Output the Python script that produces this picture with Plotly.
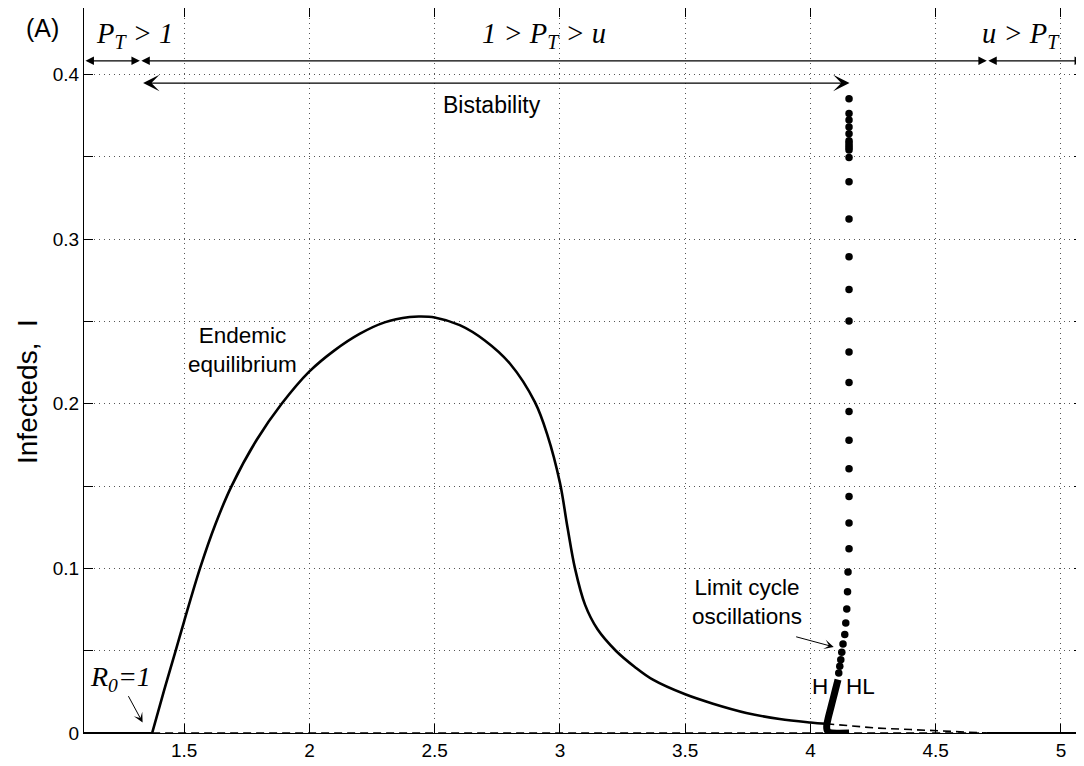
import plotly.graph_objects as go

# ---------------- data ----------------
endemic_x = [1.372, 1.420, 1.466, 1.500, 1.563, 1.625, 1.689, 1.789, 1.889, 2.000, 2.100,
             2.200, 2.300, 2.400, 2.440, 2.500, 2.600, 2.700, 2.800, 2.900, 2.950,
             3.000, 3.030, 3.060, 3.100, 3.150, 3.223, 3.300, 3.371, 3.500, 3.611,
             3.744, 3.877, 4.000, 4.063]
endemic_y = [0.000, 0.026, 0.050, 0.068, 0.100, 0.127, 0.150, 0.178, 0.200, 0.2197, 0.2325,
             0.2425, 0.2495, 0.2528, 0.2531, 0.2525, 0.2478, 0.2385, 0.2245, 0.201, 0.181,
             0.152, 0.125, 0.100, 0.078, 0.063, 0.050, 0.040, 0.0324, 0.0235,
             0.0178, 0.0122, 0.0085, 0.0064, 0.0056]

unstable_x = [4.063, 4.170, 4.264, 4.400, 4.500, 4.600, 4.704]
unstable_y = [0.0056, 0.0044, 0.0030, 0.0021, 0.0015, 0.0006, 0.0]

dfe_stable_x = [1.10, 1.372]
dfe_unstable_x = [1.372, 4.704]
dfe_stable2_x = [4.704, 5.088]

lc_dense_x = [4.110, 4.100, 4.090, 4.080, 4.070, 4.065, 4.066, 4.072, 4.085, 4.154]
lc_dense_y = [0.0324, 0.0265, 0.0205, 0.0145, 0.0085, 0.0045, 0.0020, 0.0006, 0.0, 0.0]

lc_dots_x = [4.154] * 24 + [4.150, 4.148, 4.145, 4.141, 4.137, 4.130, 4.125, 4.121, 4.117, 4.113]
lc_dots_y = [0.3854, 0.3764, 0.3724, 0.3682, 0.3641, 0.3598, 0.3584, 0.3570, 0.3556, 0.3542,
             0.3497, 0.3349, 0.3123, 0.2894, 0.2695, 0.2503, 0.2315, 0.2130, 0.1954, 0.1778,
             0.1606, 0.1437, 0.1276, 0.1120,
             0.0978, 0.0858, 0.0753, 0.0668, 0.0599, 0.0541, 0.0490, 0.0445, 0.0405, 0.0365]

x_ticks = [1.5, 2, 2.5, 3, 3.5, 4, 4.5, 5]
x_ticktext = ["1.5", "2", "2.5", "3", "3.5", "4", "4.5", "5"]
y_ticks = [0, 0.05, 0.1, 0.15, 0.2, 0.25, 0.3, 0.35, 0.4]
y_ticktext = ["0", "", "0.1", "", "0.2", "", "0.3", "", "0.4"]

# regime boundaries on the parameter axis
regime_edges = [1.10, 1.323, 4.704, 5.088]
bistab_range = [1.330, 4.156]

# ---------------- figure ----------------
SANS = "Liberation Sans, Arial, sans-serif"
SERIF = "Liberation Serif, Times New Roman, serif"

# page body has an 8px margin: size/margins compensate so the plot box lands where the reference has it
W, H = 1076, 758
ML, MR, MT, MB = 76, 1, 0, 33
PW, PH = W - ML - MR, H - MT - MB


def px2paper(sx, sy):
    fx, fy = sx - 8, sy - 8
    return (fx - ML) / PW, (H - MB - fy) / PH


fig = go.Figure()

fig.add_trace(go.Scatter(x=dfe_stable_x, y=[0, 0], mode="lines",
                         line=dict(color="black", width=2), cliponaxis=False, showlegend=False))
fig.add_trace(go.Scatter(x=dfe_unstable_x, y=[0, 0], mode="lines",
                         line=dict(color="black", width=1.6, dash="8px,5px"), cliponaxis=False, showlegend=False))
fig.add_trace(go.Scatter(x=dfe_stable2_x, y=[0, 0], mode="lines",
                         line=dict(color="black", width=2), cliponaxis=False, showlegend=False))

fig.add_trace(go.Scatter(x=endemic_x, y=endemic_y, mode="lines",
                         line=dict(color="black", width=2.6, shape="spline", smoothing=1.0),
                         showlegend=False))
fig.add_trace(go.Scatter(x=unstable_x, y=unstable_y, mode="lines",
                         line=dict(color="black", width=1.6, dash="8px,5px"), showlegend=False))
fig.add_trace(go.Scatter(x=lc_dense_x, y=lc_dense_y, mode="lines",
                         line=dict(color="black", width=7, shape="spline", smoothing=0.6),
                         cliponaxis=False, showlegend=False))
fig.add_trace(go.Scatter(x=lc_dots_x, y=lc_dots_y, mode="markers",
                         marker=dict(color="black", size=7.5), cliponaxis=False, showlegend=False))

annotations = []

# top regime arrows (double-headed, filled)
y_reg = 0.4084
for a, b in zip(regime_edges[:-1], regime_edges[1:]):
    annotations.append(dict(x=b, y=y_reg, ax=a, ay=y_reg, xref="x", yref="y", axref="x", ayref="y",
                            text="", showarrow=True, arrowhead=2, startarrowhead=2, arrowside="end+start",
                            arrowsize=1.3, startarrowsize=1.3, arrowwidth=1.3, arrowcolor="black"))
# bistability arrow
annotations.append(dict(x=bistab_range[1], y=0.3949, ax=bistab_range[0], ay=0.3949,
                        xref="x", yref="y", axref="x", ayref="y", text="", showarrow=True,
                        arrowhead=3, startarrowhead=3, arrowside="end+start",
                        arrowsize=2.1, startarrowsize=2.1, arrowwidth=1.3, arrowcolor="black"))
annotations.append(dict(x=2.73, y=0.3818, xref="x", yref="y", text="Bistability", showarrow=False,
                        font=dict(family=SANS, size=23, color="black"), xanchor="center", yanchor="middle"))

# regime labels
annotations.append(dict(x=1.300, y=0.4235, xref="x", yref="y",
                        text="<i>P</i><sub><i>T</i></sub><i> &gt; 1</i>", showarrow=False,
                        font=dict(family=SERIF, size=28.5, color="black"), xanchor="center", yanchor="middle"))
annotations.append(dict(x=2.935, y=0.4235, xref="x", yref="y",
                        text="<i>1 &gt; P</i><sub><i>T</i></sub><i> &gt; u</i>", showarrow=False,
                        font=dict(family=SERIF, size=28.5, color="black"), xanchor="center", yanchor="middle"))
annotations.append(dict(x=4.842, y=0.4235, xref="x", yref="y",
                        text="<i>u &gt; P</i><sub><i>T</i></sub>", showarrow=False,
                        font=dict(family=SERIF, size=28.5, color="black"), xanchor="center", yanchor="middle"))

# panel label
ax_, ay_ = px2paper(42, 28)
annotations.append(dict(x=ax_, y=ay_, xref="paper", yref="paper", text="(A)", showarrow=False,
                        font=dict(family=SANS, size=25, color="black"), xanchor="center", yanchor="middle"))

# curve labels
annotations.append(dict(x=1.733, y=0.2329, xref="x", yref="y", text="Endemic<br>equilibrium",
                        showarrow=False, font=dict(family=SANS, size=22.5, color="black"),
                        xanchor="center", yanchor="middle"))
annotations.append(dict(x=3.745, y=0.0798, xref="x", yref="y", text="Limit cycle<br>oscillations",
                        showarrow=False, font=dict(family=SANS, size=22.5, color="black"),
                        xanchor="center", yanchor="middle"))
annotations.append(dict(x=4.093, y=0.0523, ax=3.937, ay=0.0587, xref="x", yref="y", axref="x", ayref="y",
                        text="", showarrow=True, arrowhead=3, arrowsize=1.6, arrowwidth=1.0, arrowcolor="black"))
annotations.append(dict(x=4.037, y=0.0281, xref="x", yref="y", text="H", showarrow=False,
                        font=dict(family=SANS, size=22.5, color="black"), xanchor="center", yanchor="middle"))
annotations.append(dict(x=4.199, y=0.0281, xref="x", yref="y", text="HL", showarrow=False,
                        font=dict(family=SANS, size=22.5, color="black"), xanchor="center", yanchor="middle"))
annotations.append(dict(x=1.247, y=0.0330, xref="x", yref="y", text="<i>R</i><sub><i>0</i></sub><i>=1</i>",
                        showarrow=False, font=dict(family=SERIF, size=28, color="black"),
                        xanchor="center", yanchor="middle"))
annotations.append(dict(x=1.334, y=0.0064, ax=1.274, ay=0.0233, xref="x", yref="y", axref="x", ayref="y",
                        text="", showarrow=True, arrowhead=3, arrowsize=1.6, arrowwidth=1.0, arrowcolor="black"))

# y-axis title
tx, ty = px2paper(27, 392)
annotations.append(dict(x=tx, y=ty, xref="paper", yref="paper", text="Infecteds,  I",
                        textangle=-90, showarrow=False, font=dict(family=SANS, size=28, color="black"),
                        xanchor="center", yanchor="middle"))

fig.update_layout(
    width=W, height=H,
    margin=dict(l=ML, r=MR, t=MT, b=MB, autoexpand=False),
    paper_bgcolor="white", plot_bgcolor="white",
    annotations=annotations,
    xaxis=dict(range=[1.10, 5.088], tickmode="array", tickvals=x_ticks, ticktext=x_ticktext,
               ticks="inside", ticklen=9, tickwidth=1, tickcolor="black", automargin=False,
               showline=True, linecolor="black", linewidth=1, mirror="ticks",
               showgrid=True, gridcolor="#555555", gridwidth=1, griddash="1px,4px",
               zeroline=False, tickfont=dict(family=SANS, size=19, color="black")),
    yaxis=dict(range=[0, 0.4405], tickmode="array", tickvals=y_ticks, ticktext=y_ticktext,
               ticks="inside", ticklen=9, tickwidth=1, tickcolor="black", automargin=False,
               showline=True, linecolor="black", linewidth=1, mirror="ticks",
               showgrid=True, gridcolor="#555555", gridwidth=1, griddash="1px,4px",
               zeroline=False, tickfont=dict(family=SANS, size=19, color="black")),
)

fig.write_html("out.html")
